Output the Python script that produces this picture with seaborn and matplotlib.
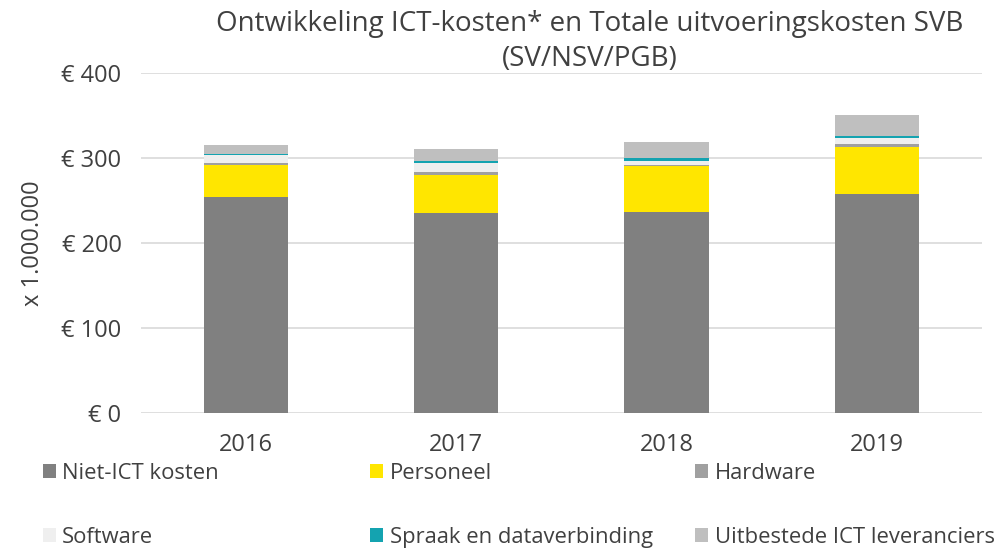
import numpy as np
import pandas as pd
import matplotlib
matplotlib.use('Agg')
import matplotlib.pyplot as plt
import seaborn as sns
from matplotlib.patches import Patch

jaren = ['2016', '2017', '2018', '2019']
niet_ict = [254, 235, 237, 258]
personeel = [38, 45, 53, 55]
hardware = [2, 4, 1.5, 3]
software = [9, 10.5, 5.5, 7.5]
spraak = [1.5, 2, 2.5, 2.5]
uitbesteed = [10.5, 14, 19, 24]

reeksen = ['Niet-ICT kosten', 'Personeel', 'Hardware', 'Software',
           'Spraak en dataverbinding', 'Uitbestede ICT leveranciers']
kleuren = ['#808080', '#FFE600', '#A0A0A0', '#EFEFEF', '#14A3B0', '#BFBFBF']
tekst = '#404040'

sns.set_style('white')
plt.rcParams['font.family'] = ['Open Sans', 'DejaVu Sans']

waarden = np.array([niet_ict, personeel, hardware, software, spraak, uitbesteed])
cumulatief = waarden.cumsum(axis=0)

fig, ax = plt.subplots(figsize=(10.07, 5.48), dpi=100)
fig.subplots_adjust(left=0.14, right=0.975, top=0.867, bottom=0.246)

# stapelen: hoogste cumulatief eerst tekenen
for i in range(len(reeksen) - 1, -1, -1):
    df = pd.DataFrame({'jaar': jaren, 'waarde': cumulatief[i]})
    sns.barplot(data=df, x='jaar', y='waarde', color=kleuren[i], width=0.4,
                saturation=1, linewidth=0, ax=ax, zorder=3)

ax.set_ylim(0, 400)
ax.set_yticks([0, 100, 200, 300, 400])
ax.set_yticklabels(['€ 0', '€ 100', '€ 200', '€ 300', '€ 400'])
ax.yaxis.grid(True, color='#D9D9D9', linewidth=1.2, zorder=0)
ax.set_axisbelow(True)
sns.despine(ax=ax, left=True, bottom=True)
ax.tick_params(axis='both', length=0, labelsize=17, colors=tekst)
ax.tick_params(axis='y', pad=14)
ax.tick_params(axis='x', pad=14)
ax.set_xlabel('')
ax.set_ylabel('x 1.000.000', fontsize=17, color=tekst, labelpad=12)
fig.text(0.586, 0.866, 'Ontwikkeling ICT-kosten* en Totale uitvoeringskosten SVB\n(SV/NSV/PGB)',
         ha='center', va='bottom', fontsize=20, color=tekst, linespacing=1.35)

# legenda: drie kolommen, elk apart geplaatst
kolom_x = [0.027, 0.352, 0.675]
for k in range(3):
    idx = [k, k + 3]
    handles = [Patch(facecolor=kleuren[i], edgecolor='none') for i in idx]
    leg = fig.legend(handles, [reeksen[i] for i in idx], loc='lower left',
                     bbox_to_anchor=(kolom_x[k], -0.028), frameon=False,
                     fontsize=15.8, handlelength=0.6, handleheight=0.6,
                     handletextpad=0.3, labelspacing=1.95, labelcolor=tekst,
                     borderaxespad=0.3)

fig.savefig('out.png', dpi=100)
